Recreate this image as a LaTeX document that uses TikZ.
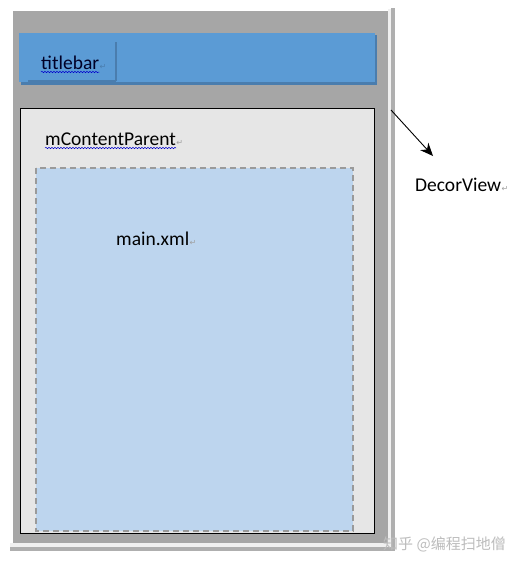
\documentclass[tikz,border=0pt]{standalone}
\usepackage{fontspec}
\setmainfont{Carlito}
\newfontfamily\cjkfont{Noto Sans CJK SC}
\newfontfamily\symfont{DejaVu Sans}
\usetikzlibrary{arrows.meta,decorations.pathmorphing}
\definecolor{outergray}{HTML}{A6A6A6}
\definecolor{barblue}{HTML}{5B9BD5}
\definecolor{barshadow}{HTML}{4A7DAE}
\definecolor{contentfill}{HTML}{E6E6E6}
\definecolor{xmlfill}{HTML}{BDD5EE}
\definecolor{dashgray}{HTML}{9A9A9A}
\definecolor{markgray}{HTML}{A0A0A0}
\definecolor{wmgray}{HTML}{BDBDBD}
\tikzset{
  lbl/.style={inner sep=0pt, anchor=base west, font=\fontsize{19.5}{22}\selectfont},
  wavy/.style={draw=blue!80!black, line width=0.5pt, decorate, decoration={snake, amplitude=0.7pt, segment length=3pt}},
  pmark/.style={inner sep=0pt, anchor=base west, text=markgray, font=\symfont\fontsize{8}{9}\selectfont},
}
\begin{document}
\begin{tikzpicture}[x=1pt,y=-1pt]
\useasboundingbox (0,0) rectangle (523,568);
\fill[white] (0,0) rectangle (523,568);
% outer frame lines (shadow)
\fill[outergray!90] (10,547) rectangle (395,551);
\fill[outergray!90] (391,8) rectangle (395,551);
\fill[white!94!black] (388,9) rectangle (391,547);
\fill[white!94!black] (10,543) rectangle (391,547);
% DecorView gray body
\fill[outergray] (13,11) rectangle (388,543);
% titlebar
\fill[barshadow] (21,35) rectangle (377,85);
\fill[barblue] (19,33) rectangle (375,82);
\draw[barshadow, line width=1.4pt] (116,42) -- (116,81);
\draw[barshadow, line width=1.6pt] (28,81) -- (116,81);
\node[lbl, text=black!85!blue] (title) at (41,69) {titlebar};
\draw[wavy] ([yshift=-3pt]title.base west) -- ([yshift=-3pt]title.base east);
\node[pmark, text=barshadow] (titlemark) at (title.base east) {↵};
% content parent
\draw[fill=contentfill, draw=black, line width=0.8pt] (20,108) rectangle (374,533);
\node[lbl] (cp) at (45,145) {mContentParent};
\draw[wavy] ([yshift=-3pt]cp.base west) -- ([yshift=-3pt]cp.base east);
\node[pmark] (cpmark) at (cp.base east) {↵};
% main.xml
\draw[fill=xmlfill, draw=dashgray, line width=1.3pt, dash pattern=on 6pt off 4pt] (36,168) rectangle (353,531);
\node[lbl] (xml) at (116,245) {main.xml};
\node[pmark] (xmlmark) at (xml.base east) {↵};
% arrow
\coordinate (a1) at (391,110);
\coordinate (a2) at (433,156);
\draw[line width=0.9pt, -{Stealth[length=13pt,width=11pt]}] (a1) -- (a2);
\node[lbl] (dv) at (415,191) {DecorView};
\node[pmark] (dvmark) at (dv.base east) {↵};
% watermark
\node[inner sep=0pt, anchor=west, text=wmgray, font=\cjkfont\fontsize{15}{18}\selectfont] (wm) at (383,544) {知乎 @编程扫地僧};
\end{tikzpicture}
\end{document}
